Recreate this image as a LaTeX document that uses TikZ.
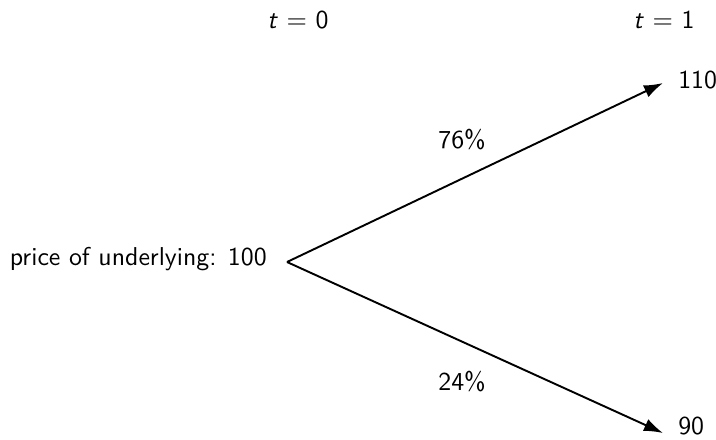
\documentclass[tikz,border=0pt]{standalone}
\usepackage{tikz}
\usetikzlibrary{arrows.meta, positioning}
\tikzset{
  font=\sffamily\fontsize{10.8}{13}\selectfont,
  timelabel/.style={inner sep=2pt},
  pricenode/.style={inner sep=2pt},
  branchline/.style={draw=black, -{Latex[length=2.8mm, width=1.9mm]}, line width=0.8pt},
  problabel/.style={inner sep=1pt}
}
\newcommand{\timeat}[1]{\textit{t} $=$ #1}

\begin{document}
\begin{tikzpicture}[x=0.0147cm, y=-0.0147cm]
  \useasboundingbox (0,0) rectangle (716,439);

  % time axis labels
  \node[timelabel] (tzero) at (298,20) {\timeat{0}};
  \node[timelabel] (tone) at (664,20) {\timeat{1}};

  % price nodes
  \node[pricenode, anchor=east] (root) at (272,259) {price of underlying: 100};
  \coordinate (fork) at (287,262);
  \coordinate (upend) at (663,83);
  \coordinate (downend) at (663,433);
  \node[pricenode, anchor=west] (up) at (673,80.5) {110};
  \node[pricenode, anchor=west] (down) at (673,426.5) {90};

  % branches
  \draw[branchline] (fork) -- (upend);
  \draw[branchline] (fork) -- (downend);

  % probabilities
  \node[problabel] (pup) at (462,140) {76\%};
  \node[problabel] (pdown) at (462,382) {24\%};
\end{tikzpicture}
\end{document}
